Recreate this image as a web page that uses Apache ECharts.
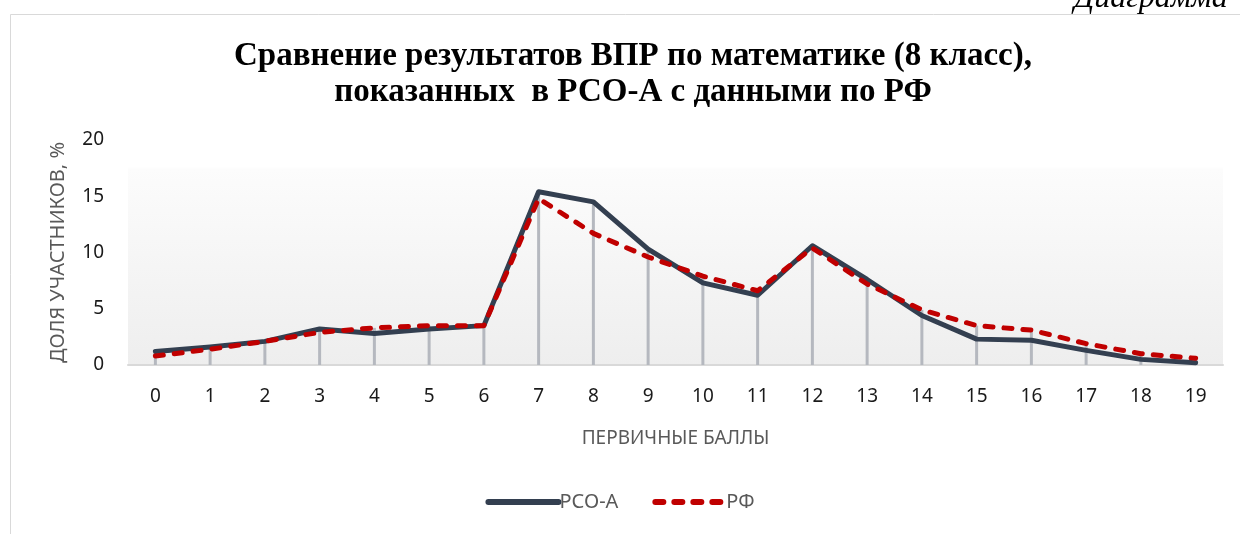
<!DOCTYPE html>
<html>
<head>
<meta charset="utf-8">
<script src="https://cdn.jsdelivr.net/npm/echarts@6/dist/echarts.min.js"></script>
<style>
  html, body { margin: 0; padding: 0; background: #fff; }
  #chart-root { width: 1240px; height: 534px; }
</style>
</head>
<body>
<div id="chart-root"></div>
<script>
// первичные баллы 0..19
const scores = ['0', '1', '2', '3', '4', '5', '6', '7', '8', '9', '10', '11', '12', '13', '14', '15', '16', '17', '18', '19']
// доля участников, % (РСО-А)
const rsoA = [1.2, 1.6, 2.1, 3.2, 2.8, 3.2, 3.5, 15.4, 14.5, 10.3, 7.3, 6.2, 10.6, 7.6, 4.4, 2.3, 2.2, 1.3, 0.5, 0.2]
// доля участников, % (РФ)
const rf = [0.8, 1.4, 2.1, 2.9, 3.3, 3.5, 3.5, 14.8, 11.7, 9.6, 7.9, 6.6, 10.4, 7.2, 4.9, 3.5, 3.1, 1.9, 1.0, 0.6]
const yTicks = [0, 5, 10, 15, 20]

// drop lines go up to the higher of the two points
const dropLines = rsoA.map((v, i) => Math.max(v, rf[i]))

let chart = echarts.init(document.getElementById('chart-root'))

let option = {
  animation: false,
  backgroundColor: '#ffffff',
  title: {
    text: 'Сравнение результатов ВПР по математике (8 класс),\nпоказанных  в РСО-А с данными по РФ',
    left: 628,
    textAlign: 'center',
    top: 33,
    textStyle: {
      fontFamily: 'Liberation Serif',
      fontWeight: 'bold',
      fontSize: 33,
      lineHeight: 36,
      color: '#000'
    }
  },
  graphic: [
    {
      type: 'rect',
      shape: { x: 10.5, y: 14.5, width: 1240, height: 530 },
      style: { fill: 'none', stroke: '#d9d9d9', lineWidth: 1 },
      silent: true
    },
    {
      type: 'text',
      left: 1074,
      top: -17,
      style: {
        text: 'Диаграмма',
        font: 'italic 32px "Liberation Serif"',
        fill: '#000'
      }
    }
  ],
  grid: {
    left: 128,
    right: 17,
    top: 140,
    bottom: 169,
    show: true,
    borderWidth: 0,
    backgroundColor: {
      type: 'linear',
      x: 0, y: 0, x2: 0, y2: 1,
      colorStops: [
        { offset: 0, color: '#ffffff' },
        { offset: 0.12, color: '#ffffff' },
        { offset: 0.13, color: '#fcfcfc' },
        { offset: 1, color: '#eeeeee' }
      ]
    }
  },
  legend: {
    bottom: 17,
    left: 'center',
    itemWidth: 70,
    itemHeight: 14,
    itemGap: 34,
    data: ['РСО-А', 'РФ'],
    itemStyle: { opacity: 0 },
    lineStyle: { width: 6, cap: 'round' },
    textStyle: {
      fontFamily: 'Noto Sans',
      fontSize: 20,
      color: '#595959',
      padding: [0, 0, 0, -4]
    }
  },
  xAxis: {
    type: 'category',
    data: scores,
    boundaryGap: true,
    name: 'ПЕРВИЧНЫЕ БАЛЛЫ',
    nameLocation: 'middle',
    nameGap: 64,
    nameTextStyle: {
      fontFamily: 'Noto Sans',
      fontSize: 19,
      color: '#595959'
    },
    axisLine: { lineStyle: { color: '#d9d9d9', width: 2 } },
    axisTick: { show: false },
    axisLabel: {
      margin: 22,
      fontFamily: 'Noto Sans',
      fontSize: 19,
      color: '#1a1a1a'
    }
  },
  yAxis: {
    type: 'value',
    min: yTicks[0],
    max: yTicks[yTicks.length - 1],
    interval: 5,
    name: 'ДОЛЯ УЧАСТНИКОВ, %',
    nameLocation: 'middle',
    nameGap: 60,
    nameRotate: 90,
    nameTextStyle: {
      fontFamily: 'Noto Sans',
      fontSize: 20,
      color: '#595959'
    },
    axisLine: { show: false },
    axisTick: { show: false },
    splitLine: { show: false },
    axisLabel: {
      margin: 24,
      fontFamily: 'Noto Sans',
      fontSize: 19,
      color: '#1a1a1a'
    }
  },
  series: [
    {
      name: 'drop',
      type: 'bar',
      data: dropLines,
      barWidth: 3,
      itemStyle: { color: '#b5b8bf' },
      silent: true,
      z: 1
    },
    {
      name: 'РСО-А',
      type: 'line',
      data: rsoA,
      symbol: 'none',
      color: '#333f50',
      lineStyle: { width: 5, color: '#333f50', cap: 'round', join: 'round' },
      z: 3
    },
    {
      name: 'РФ',
      type: 'line',
      data: rf,
      symbol: 'none',
      color: '#c00000',
      lineStyle: { width: 5, color: '#c00000', type: [8, 11], cap: 'round', join: 'round' },
      z: 4
    }
  ]
}

chart.setOption(option)
</script>
</body>
</html>
